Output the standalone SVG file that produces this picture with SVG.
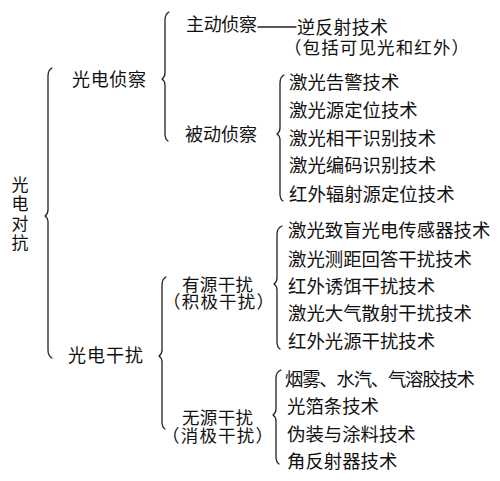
<svg xmlns="http://www.w3.org/2000/svg" width="500" height="481" viewBox="0 0 500 481">
<style>
text{font-family:"Noto Sans CJK SC","Noto Sans CJK JP",sans-serif;fill:#111;font-size:18px}
.it{font-size:18.4px}
.sm{font-size:17.5px}
.br{fill:none;stroke:#222;stroke-width:1.3;stroke-linecap:round;stroke-linejoin:round}
</style>
<rect width="500" height="481" fill="#fff"/>
<g id="connectors">
<path class="br" d="M52,68 Q48,70 48,76 L48,210 Q48,214 45,216 Q48,218 48,222 L48,350 Q48,356 52,358"/>
<path class="br" d="M169,12 Q165,14 165,20 L165,73 Q165,77 162,79 Q165,81 165,85 L165,134 Q165,139 168,141"/>
<path class="br" d="M284,75 Q280,77 280,83 L280,128 Q280,132 277,134 Q280,136 280,140 L280,194 Q280,199 283,201"/>
<path class="br" d="M166,277 Q162,279 162,285 L162,350 Q162,354 159,356 Q162,358 162,362 L162,422 Q162,427 165,429"/>
<path class="br" d="M282,226 Q277,228 277,234 L277,278 Q277,282 274,284 Q277,286 277,290 L277,342 Q277,347 280,349"/>
<path class="br" d="M281,370 Q276,372 276,378 L276,409 Q276,413 273,415 Q276,417 276,421 L276,457 Q276,462 279,464"/>
<line class="br" x1="258" y1="27" x2="296" y2="27"/>
</g>
<g id="root"><text x="20" y="176" writing-mode="tb" letter-spacing="2.5" style="font-size:17px">光电对抗</text></g>
<g id="n-zhencha"><text x="72" y="86" textLength="74">光电侦察</text></g>
<g id="n-ganrao"><text x="68" y="362" textLength="75">光电干扰</text></g>
<g id="n-zhudong"><text x="186" y="31" textLength="71">主动侦察</text></g>
<g id="n-nifanshe"><text><tspan x="297" y="34" textLength="91">逆反射技术</tspan><tspan x="284" y="54" textLength="185" class="sm">（包括可见光和红外）</tspan></text></g>
<g id="n-beidong"><text x="185" y="141" textLength="72">被动侦察</text></g>
<g id="n-youyuan"><text class="sm"><tspan x="182" y="291" textLength="71">有源干扰</tspan><tspan x="163" y="308" textLength="111">（积极干扰）</tspan></text></g>
<g id="n-wuyuan"><text class="sm"><tspan x="182" y="424" textLength="71">无源干扰</tspan><tspan x="162" y="442" textLength="111">（消极干扰）</tspan></text></g>
<g id="list-beidong">
<text class="it" x="289" y="89">激光告警技术</text>
<text class="it" x="289" y="117">激光源定位技术</text>
<text class="it" x="289" y="145">激光相干识别技术</text>
<text class="it" x="289" y="172">激光编码识别技术</text>
<text class="it" x="289" y="201">红外辐射源定位技术</text>
</g>
<g id="list-youyuan">
<text class="it" x="288" y="237">激光致盲光电传感器技术</text>
<text class="it" x="288" y="266">激光测距回答干扰技术</text>
<text class="it" x="288" y="293">红外诱饵干扰技术</text>
<text class="it" x="288" y="320">激光大气散射干扰技术</text>
<text class="it" x="288" y="348">红外光源干扰技术</text>
</g>
<g id="list-wuyuan">
<text class="it" x="285" y="386" textLength="190">烟雾、水汽、气溶胶技术</text>
<text class="it" x="287" y="413">光箔条技术</text>
<text class="it" x="287" y="441">伪装与涂料技术</text>
<text class="it" x="287" y="468">角反射器技术</text>
</g>
</svg>
